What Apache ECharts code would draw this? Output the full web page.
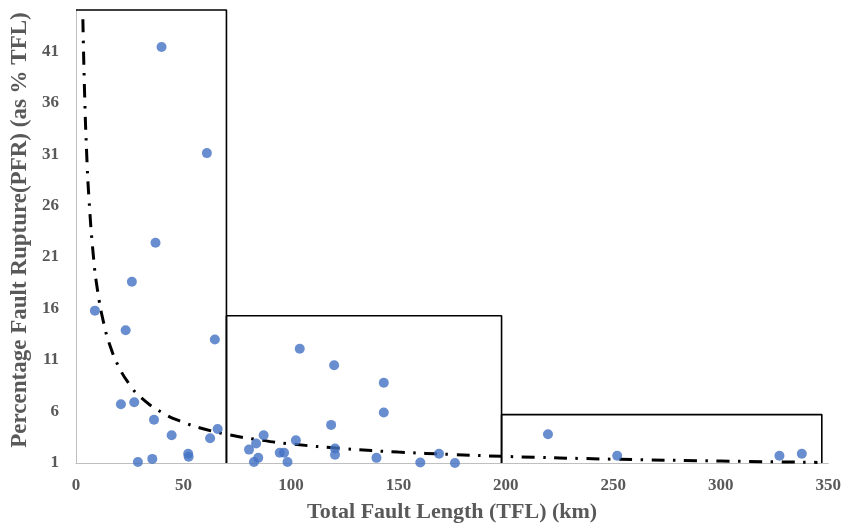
<!DOCTYPE html>
<html>
<head>
<meta charset="utf-8">
<script src="https://cdn.jsdelivr.net/npm/echarts@6/dist/echarts.min.js"></script>
<style>
html,body{margin:0;padding:0;background:#fff;}
#chart{width:844px;height:528px;}
</style>
</head>
<body>
<div id="chart"></div>
<script>
// Observed faults: total fault length (km) and percentage fault rupture
const tflKm = [8.8, 20.9, 23.1, 26.0, 27.1, 28.8, 35.5, 36.3, 37.0, 39.8, 44.5, 52.2, 52.4, 60.9, 62.4, 64.6, 65.9,
  80.5, 82.8, 83.8, 84.8, 87.3, 94.8, 96.8, 98.4, 102.3, 104.1, 118.7, 120.1, 120.5, 120.5, 139.8, 143.2, 143.2,
  160.2, 168.9, 176.3, 219.6, 251.8, 327.3, 337.7];
const pfrPct = [15.8, 6.7, 13.9, 18.6, 6.9, 1.1, 1.4, 5.2, 22.4, 41.4, 3.7, 1.9, 1.6, 31.1, 3.4, 13.0, 4.3,
  2.3, 1.1, 2.9, 1.5, 3.7, 2.0, 2.0, 1.1, 3.2, 12.1, 4.7, 10.5, 2.4, 1.8, 1.5, 8.8, 5.9,
  1.05, 1.9, 1.0, 3.8, 1.7, 1.7, 1.9];

// Power trend line
const trendX = [3.2, 4, 5, 6, 8, 10, 13, 16, 20, 25, 30, 40, 50, 60, 70, 85, 100, 125, 150, 175, 200, 250, 300, 345];
const trendY = [44.1, 36.9, 30.9, 26.8, 21.3, 17.8, 14.5, 12.3, 10.3, 8.6, 7.4, 5.9, 4.95, 4.28, 3.79, 3.25, 2.85, 2.39, 2.06, 1.83, 1.64, 1.37, 1.19, 1.06];

// Envelope boxes: [xStart, xEnd, top]
const boxStart = [0, 70, 198];
const boxEnd = [70, 198, 347];
const boxTop = [45, 15.3, 5.7];

// Axis setup values
const yMin = 1, yMax = 45, yStep = 5;
const xMin = 0, xMax = 350, xStep = 50;

const xTitle = 'Total Fault Length (TFL) (km)';
const yTitle = 'Percentage Fault Rupture(PFR) (as % TFL)';

const scatterData = tflKm.map((x, i) => [x, pfrPct[i]]);
const trendData = trendX.map((x, i) => [x, trendY[i]]);

const boxSeries = boxStart.map((x0, i) => ({
  type: 'line',
  data: (i === 0)
    ? [[x0, boxTop[i]], [boxEnd[i], boxTop[i]], [boxEnd[i], yMin]]
    : [[x0, yMin], [x0, boxTop[i]], [boxEnd[i], boxTop[i]], [boxEnd[i], yMin]],
  showSymbol: false,
  symbol: 'none',
  clip: false,
  silent: true,
  z: 1,
  lineStyle: { color: '#000', width: 1.6 }
}));

const labelFont = { fontFamily: '"Liberation Serif", "Times New Roman", serif', fontWeight: 'bold', color: '#595959' };

const chart = echarts.init(document.getElementById('chart'), null, { renderer: 'canvas' });
chart.setOption({
  animation: false,
  backgroundColor: '#fff',
  grid: { left: 76, right: 15, top: 10, bottom: 61, containLabel: false },
  xAxis: {
    type: 'value', min: xMin, max: xMax, interval: xStep,
    name: xTitle, nameLocation: 'middle', nameGap: 38,
    nameTextStyle: Object.assign({ fontSize: 22 }, labelFont),
    axisLine: { show: true, onZero: false, lineStyle: { color: '#BFBFBF', width: 1 } },
    axisTick: { show: false },
    splitLine: { show: false },
    axisLabel: Object.assign({ fontSize: 17, margin: 14 }, labelFont)
  },
  yAxis: {
    type: 'value', min: yMin, max: yMax, interval: yStep,
    name: yTitle, nameLocation: 'middle', nameGap: 36,
    nameTextStyle: Object.assign({ fontSize: 23, padding: [0, 0, 0, 13] }, labelFont),
    axisLine: { show: true, lineStyle: { color: '#BFBFBF', width: 1 } },
    axisTick: { show: false },
    splitLine: { show: false },
    axisLabel: Object.assign({ fontSize: 17, margin: 17, showMaxLabel: false }, labelFont)
  },
  series: boxSeries.concat([
    {
      type: 'line',
      data: trendData,
      smooth: true,
      showSymbol: false,
      symbol: 'none',
      clip: false,
      silent: true,
      z: 3,
      lineStyle: { color: '#000', width: 3, type: [13, 8.5, 2.5, 8.5], cap: 'butt' }
    },
    {
      type: 'scatter',
      data: scatterData,
      symbol: 'circle',
      symbolSize: 10,
      z: 4,
      itemStyle: { color: '#4472C4' }
    }
  ])
});
</script>
</body>
</html>
